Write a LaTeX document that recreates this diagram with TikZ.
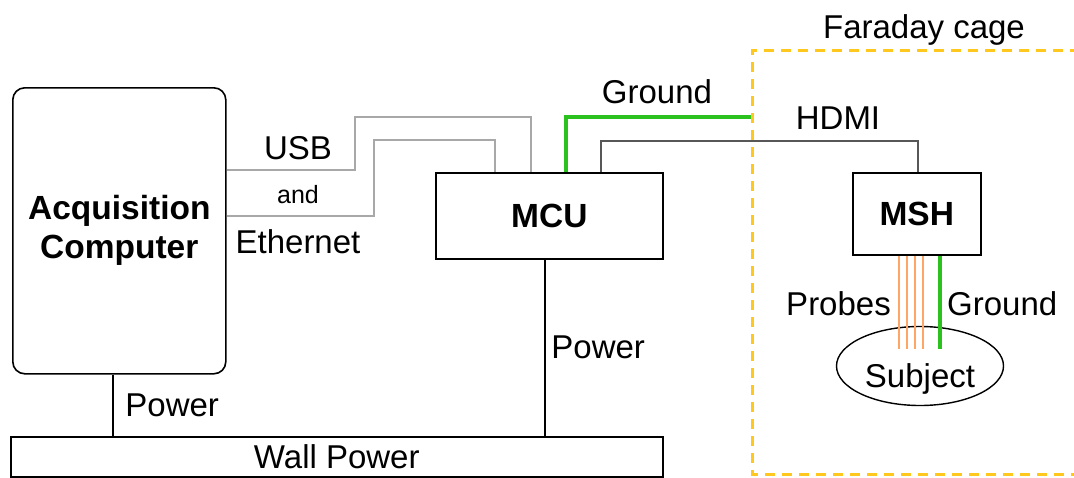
\documentclass[tikz,border=0pt]{standalone}
\usepackage{fontspec}
\setmainfont{Liberation Sans}
\usetikzlibrary{positioning,shapes.geometric}
\definecolor{CableGray}{HTML}{A8A8A8}
\definecolor{HdmiGray}{HTML}{575757}
\definecolor{GroundGreen}{HTML}{2BC21F}
\definecolor{ProbeOrange}{HTML}{FFA566}
\definecolor{CageYellow}{HTML}{FFC81E}
\tikzset{lbl/.style={inner sep=2pt,font=\fontsize{33}{39}\selectfont},
 unit/.style={draw,line width=1.6pt,inner sep=0pt,align=center,
  font=\fontsize{33.5}{39}\selectfont\bfseries},
 cable/.style={CableGray,line width=2.4pt},
 power/.style={line width=2.8pt},
 hdmi/.style={HdmiGray,line width=2.6pt},
 ground/.style={GroundGreen,line width=3.2pt},
 probe/.style={ProbeOrange,line width=1.6pt},
 cage/.style={CageYellow,line width=3pt,dash pattern=on 10pt off 7pt}}
\begin{document}
\begin{tikzpicture}[x=1pt,y=-1pt]
\useasboundingbox (0,0) rectangle (1074,477);
% Units outside and inside the cage
\node[unit,rounded corners=12pt,minimum width=213pt,minimum height=286pt,anchor=north west]
 (pc) at (12,87) {Acquisition\\Computer};
\node[unit,minimum width=227pt,minimum height=86pt,anchor=north west] (mcu) at (435,172) {MCU};
\node[unit,minimum width=128pt,minimum height=82pt,anchor=north west] (msh) at (852,172) {MSH};
\node[lbl,draw,ellipse,line width=1.4pt,minimum width=167pt,minimum height=79pt] (subj) at (920,366)
 {\raisebox{-21pt}[0pt][0pt]{Subject}};
\node[lbl,draw,line width=1.6pt,minimum width=652pt,minimum height=40pt,anchor=north west]
 (wall) at (10,436) {Wall Power};
\draw[power] (pc.south -| 113,0) -- (wall.north -| 113,0) node[lbl,midway,right=9pt]{Power};
\draw[power] (mcu.south -| 545,0) -- (wall.north -| 545,0) node[lbl,midway,right=3pt]{Power};
\draw[cable] (pc.east |- 0,170) -| (355,117) -| (mcu.north -| 531,0);
\draw[cable] (pc.east |- 0,216) -| (374,140) -| (mcu.north -| 495,0);
\node[lbl] (usb) at (298,148) {USB};
\node[lbl,font=\fontsize{25}{30}\selectfont] (and) at (298,195) {and};
\node[lbl] (eth) at (298,242) {Ethernet};
\draw[ground] (mcu.north -| 566,0) |- (752,117) coordinate (gnd);
\node[lbl] (gndlbl) at (657,92) {Ground};
\draw[hdmi] (mcu.north -| 601,0) |- (918,141) -- (msh.north -| 918,0);
\node[lbl] (hdmi) at (838,118) {HDMI};
\foreach \x in {899,907,915,923}
 \draw[probe] (msh.south -| \x,0) -- (\x,349);
\draw[ground] (msh.south -| 940,0) -- (940,349);
\node[lbl,left] (probes) at (893,304) {Probes};
\node[lbl,right] (subjgnd) at (945,304) {Ground};
\draw[cage] (1080,50) -- (752,50) -- (752,474) -- (1080,474);
\node[lbl] (cage) at (924,30) {Faraday cage};
\end{tikzpicture}
\end{document}
